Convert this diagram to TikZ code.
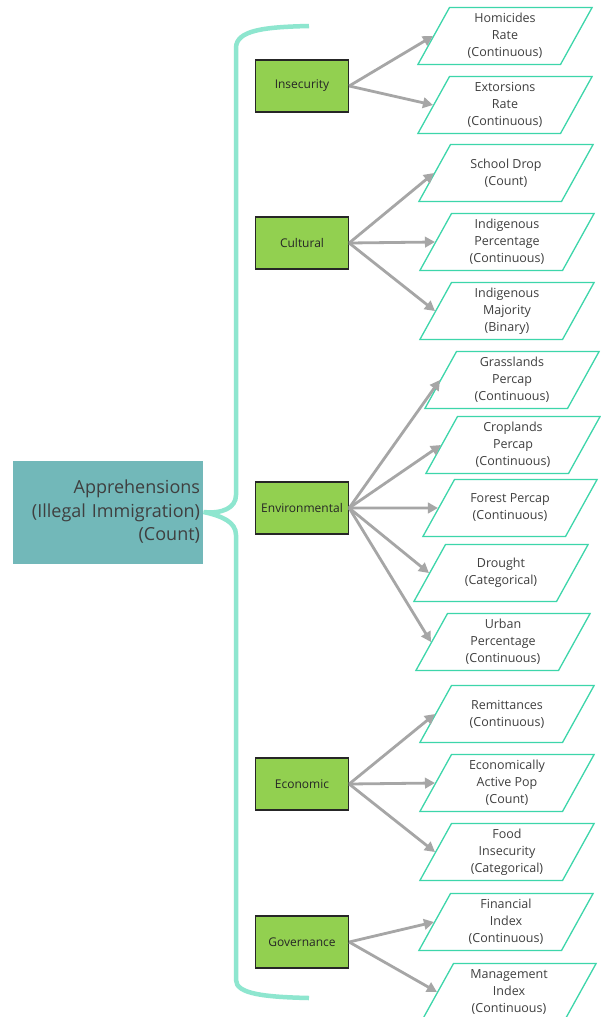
\documentclass[tikz,border=0pt]{standalone}
\usepackage{fontspec}
\setmainfont{Open Sans}
\usepackage{xcolor}
\usetikzlibrary{arrows.meta,shapes.geometric}
\definecolor{apprteal}{HTML}{72B8B9}
\definecolor{catgreen}{HTML}{92D050}
\definecolor{leafline}{HTML}{3DD6AA}
\definecolor{braceline}{HTML}{8EE6CF}
\definecolor{arrowgray}{HTML}{A6A6A6}
\definecolor{txtgray}{HTML}{3F3F3F}
\newcommand{\varlabel}[1]{\parbox[c][57pt][c]{111pt}{\centering #1}}

\begin{document}
\begin{tikzpicture}[x=1pt,y=-1pt,
  outcome/.style={fill=apprteal, minimum width=190pt, minimum height=103pt, text width=184pt, align=right, font=\fontsize{18}{23.5}\selectfont, text=txtgray},
  category/.style={draw=black!85, line width=1.3pt, fill=catgreen, minimum width=93pt, minimum height=52pt, font=\fontsize{12}{14}\selectfont, text=black!85, inner sep=1pt},
  varbox/.style={trapezium, trapezium left angle=61, trapezium right angle=119, draw=leafline, line width=1.3pt, fill=white, font=\fontsize{12.5}{17}\selectfont, text=txtgray, inner sep=0pt},
  linkarrow/.style={arrowgray, line width=2.8pt, -{Triangle[length=10pt,width=10.5pt]}},
  bracepath/.style={braceline, line width=4.5pt}
]
\useasboundingbox[fill=white] (0,0) rectangle (601,1017);

\node[outcome] (appr) at (108,512) {Apprehensions\\(Illegal Immigration)\\(Count)};

\foreach \nm/\y/\lbl in {insec/86/Insecurity, cult/243/Cultural, env/508/Environmental, econ/784/Economic, gov/942/Governance}{
  \node[category] (\nm) at (302,\y) {\lbl};
}

% variables, grouped by category
\foreach \nm/\x/\y/\txt in {
  homic/505/36/{Homicides\\Rate\\(Continuous)},
  extor/505/105/{Extorsions\\Rate\\(Continuous)},
  school/506/173/{School Drop\\(Count)},
  indpct/507/242/{Indigenous\\Percentage\\(Continuous)},
  indmaj/507/311/{Indigenous\\Majority\\(Binary)},
  grass/512/380/{Grasslands\\Percap\\(Continuous)},
  crop/513/445/{Croplands\\Percap\\(Continuous)},
  forest/510/508/{Forest Percap\\(Continuous)},
  drought/501/573/{Drought\\(Categorical)},
  urban/503/642/{Urban\\Percentage\\(Continuous)},
  remit/507/714/{Remittances\\(Continuous)},
  eap/507/783/{Economically\\Active Pop\\(Count)},
  food/507/852/{Food\\Insecurity\\(Categorical)},
  fin/506/922/{Financial\\Index\\(Continuous)},
  mgmt/509/992/{Management\\Index\\(Continuous)}}{
  \node[varbox] (\nm) at (\x,\y) {\varlabel{\txt}};
}

\foreach \a/\b in {insec/homic, insec/extor, cult/school, cult/indpct, cult/indmaj,
  env/grass, env/crop, env/forest, env/drought, env/urban,
  econ/remit, econ/eap, econ/food, gov/fin, gov/mgmt}{
  \draw[linkarrow] (\a.east) -- (\b.west);
}

% brace from the outcome to the categories
\draw[bracepath] (309,26) .. controls (265,27) and (236,30) .. (236,48) -- (236,495)
  .. controls (236,508) and (222,514) .. (appr.east) .. controls (222,516) and (236,522) .. (236,535)
  -- (236,980) .. controls (236,994) and (265,997) .. (309,998);
\end{tikzpicture}
\end{document}
